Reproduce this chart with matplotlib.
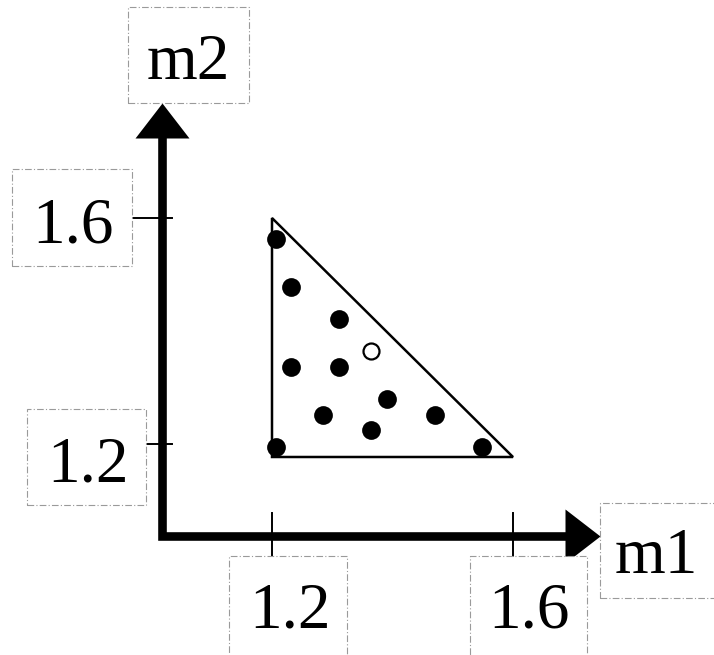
import matplotlib
matplotlib.use("Agg")
import matplotlib.pyplot as plt
from matplotlib.patches import Rectangle, Polygon
from matplotlib.path import Path
import numpy as np

W, H, DPI = 714, 655, 100

# ---- data ----
filled_m1 = [1.206, 1.232, 1.312, 1.232, 1.312, 1.391, 1.285, 1.471, 1.365, 1.206, 1.549]
filled_m2 = [1.563, 1.477, 1.422, 1.336, 1.336, 1.280, 1.251, 1.251, 1.225, 1.195, 1.195]
open_m1 = [1.365]
open_m2 = [1.364]
tri_m1 = [1.2, 1.2, 1.6]
tri_m2 = [1.6, 1.177, 1.177]
ticks = [1.2, 1.6]
tick_labels = ["1.2", "1.6"]
axis_labels = ["m1", "m2"]

# ---- figure / axes mapping (full-figure axes) ----
fig = plt.figure(figsize=(W / DPI, H / DPI), dpi=DPI)
ax = fig.add_axes([0, 0, 1, 1])
ax.set_xlim(0.74855, 1.93361)
ax.set_ylim(0.82655, 1.98584)
ax.axis("off")

def px2data(px, py):
    x0, x1 = ax.get_xlim()
    y0, y1 = ax.get_ylim()
    return x0 + px / W * (x1 - x0), y1 - py / H * (y1 - y0)

ox, oy = px2data(161.5, 536)
xtip, _ = px2data(600, 0)
_, ytip = px2data(0, 103)
xbase, _ = px2data(567, 0)
_, ybase = px2data(0, 131)

# axes shafts (one polyline with mitered corner)
ax.plot([ox, ox, xbase], [ybase, oy, oy], color="black", lw=6.2,
        solid_joinstyle="miter", solid_capstyle="butt", zorder=3)

# arrow heads as custom markers with tip at the marker origin
head_r = Path([(0, 0), (-35, 27), (-35, -27), (0, 0)], closed=True)
head_u = Path([(0, 0), (-27, -35), (27, -35), (0, 0)], closed=True)
ax.plot([xtip], [oy], marker=head_r, markersize=50.4, color="black",
        markeredgewidth=0, zorder=4)
ax.plot([ox], [ytip], marker=head_u, markersize=50.4, color="black",
        markeredgewidth=0, zorder=4)

# tick marks
ty_left = {1.6: px2data(132, 0)[0], 1.2: px2data(146, 0)[0]}
ty_right = px2data(172, 0)[0]
for t in ticks:
    ax.plot([ty_left[t], ty_right], [t, t], color="black", lw=1.4, zorder=2)
tx_top = px2data(0, 513)[1]
tx_bot = px2data(0, 557)[1]
for t in ticks:
    ax.plot([t, t], [tx_bot, tx_top], color="black", lw=1.4, zorder=2)

# triangle
ax.fill(tri_m1, tri_m2, facecolor="none", edgecolor="black", lw=1.8,
        joinstyle="miter", zorder=2)

# points
ax.plot(filled_m1, filled_m2, "o", color="black", markersize=13.5,
        markeredgewidth=0, zorder=5)
ax.plot(open_m1, open_m2, "o", markerfacecolor="white",
        markeredgecolor="black", markersize=11.5, markeredgewidth=1.6, zorder=5)

# label boxes and texts (pixel layout)
font = dict(family=["Liberation Serif", "DejaVu Serif"], fontsize=47, color="black")
boxes = [
    (128, 7, 249, 103, axis_labels[1], 188, 79),
    (12, 169, 132, 266, tick_labels[1], 73, 242),
    (27, 409, 146, 505, tick_labels[0], 88, 482),
    (600, 503, 716, 598, axis_labels[0], 656, 573),
    (229, 556, 347, 658, tick_labels[0], 290, 628),
    (470, 556, 587, 658, tick_labels[1], 529, 628),
]
for x0, y0, x1, y1, txt, cx, by in boxes:
    r = Rectangle((x0 / W, 1 - y1 / H), (x1 - x0) / W, (y1 - y0) / H,
                  transform=fig.transFigure, facecolor="white",
                  edgecolor="#9a9a9a", lw=0.8, linestyle=(0, (6, 2, 1, 2)),
                  zorder=1)
    fig.add_artist(r)
    fig.text(cx / W, 1 - by / H, txt, ha="center", va="baseline", zorder=6, **font)

fig.savefig("out.png", dpi=DPI, facecolor="white")
